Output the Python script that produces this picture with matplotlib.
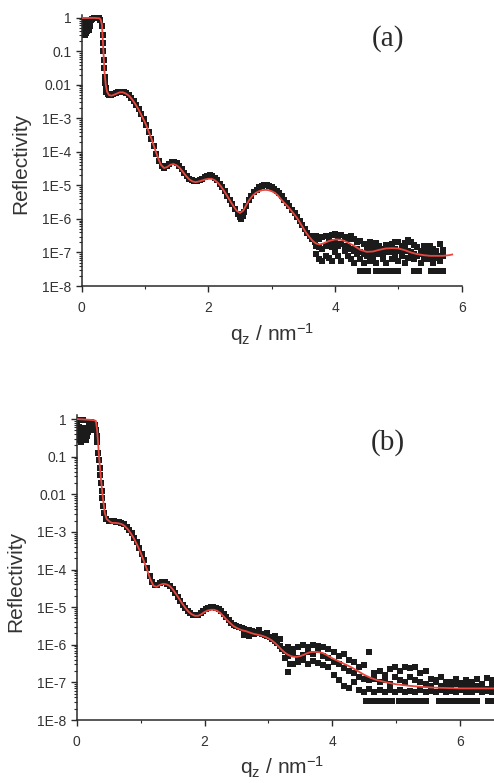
import matplotlib
matplotlib.use("Agg")
import matplotlib.pyplot as plt
import numpy as np
from matplotlib.ticker import FixedLocator, FixedFormatter, LogLocator, MultipleLocator, NullFormatter

plt.rcParams['font.family'] = ['Liberation Sans', 'DejaVu Sans']
plt.rcParams['mathtext.default'] = 'regular'

# ---------------- panel (a) : measured points (log10 R) ----------------
q_a = [0.00, 0.01, 0.02, 0.02, 0.03, 0.04, 0.05, 0.06, 0.06, 0.07,
       0.08, 0.09, 0.10, 0.11, 0.12, 0.13, 0.15, 0.17, 0.19, 0.21,
       0.23, 0.25, 0.27, 0.29,
       0.32, 0.33, 0.335, 0.34, 0.345, 0.35, 0.36, 0.37, 0.38, 0.39, 0.41, 0.43,
       0.46, 0.50, 0.54, 0.58, 0.62, 0.66, 0.70, 0.74, 0.78, 0.82,
       0.86, 0.90, 0.94, 0.98, 1.02, 1.06, 1.10, 1.14, 1.18, 1.22,
       1.26, 1.30,
       1.34, 1.38, 1.42, 1.46, 1.50, 1.54, 1.58, 1.62, 1.66, 1.70,
       1.74, 1.78, 1.82, 1.86, 1.90, 1.94, 1.98, 2.02, 2.06, 2.10,
       2.14, 2.18, 2.22, 2.26, 2.30, 2.34, 2.38, 2.42, 2.46, 2.50,
       2.52, 2.54, 2.56,
       2.60, 2.64, 2.68, 2.72, 2.76, 2.80, 2.84, 2.88, 2.92, 2.96,
       3.00, 3.04, 3.08, 3.12, 3.16, 3.20, 3.24, 3.28, 3.32, 3.36,
       3.40, 3.44, 3.48, 3.52, 3.56, 3.60, 3.64, 3.68]
lg_a = [-0.10, -0.30, -0.45, -0.05, -0.20, -0.40, -0.50, -0.30, -0.08, -0.45,
        -0.25, -0.40, -0.20, -0.35, -0.15, -0.25, -0.05, -0.02, 0.00, 0.01,
        0.01, 0.00, 0.00, -0.05,
        -0.25, -0.50, -0.75, -1.00, -1.25, -1.50, -1.75, -1.95, -2.10, -2.20, -2.28, -2.30,
        -2.30, -2.28, -2.25, -2.22, -2.20, -2.20, -2.24, -2.30, -2.38, -2.48,
        -2.60, -2.72, -2.87, -3.03, -3.20, -3.40, -3.60, -3.82, -4.05, -4.27,
        -4.42, -4.47,
        -4.42, -4.35, -4.30, -4.30, -4.34, -4.42, -4.52, -4.62, -4.72, -4.80,
        -4.85, -4.87, -4.87, -4.84, -4.80, -4.75, -4.72, -4.70, -4.72, -4.77,
        -4.85, -4.95, -5.05, -5.17, -5.30, -5.43, -5.56, -5.70, -5.84, -5.95,
        -6.00, -5.92, -5.80,
        -5.60, -5.42, -5.30, -5.20, -5.12, -5.06, -5.02, -5.00, -5.00, -5.02,
        -5.05, -5.10, -5.16, -5.23, -5.32, -5.42, -5.52, -5.62, -5.72, -5.82,
        -5.93, -6.05, -6.18, -6.30, -6.42, -6.52, -6.60, -6.68]

# noisy high-q part of (a): three rows of points per q
qn_a = [3.70, 3.75, 3.80, 3.85, 3.90, 3.95, 4.00, 4.05, 4.10, 4.15,
        4.20, 4.25, 4.30, 4.35, 4.40, 4.45, 4.50, 4.55, 4.60, 4.65,
        4.70, 4.75, 4.80, 4.85, 4.90, 4.95, 5.00, 5.05, 5.10, 5.15,
        5.20, 5.25, 5.30, 5.35, 5.40, 5.45, 5.50, 5.55, 5.60, 5.65,
        5.70]
hi_a = [-6.50, -6.60, -6.55, -6.50, -6.60, -6.48, -6.45, -6.50, -6.48, -6.55,
        -6.60, -6.52, -6.60, -6.70, -6.65, -6.75, -6.80, -6.70, -6.85, -6.72,
        -6.80, -6.90, -6.78, -6.90, -6.75, -6.68, -6.70, -6.80, -6.72, -6.62,
        -6.70, -6.78, -6.85, -6.95, -6.80, -6.88, -6.82, -6.90, -6.95, -6.75,
        -6.92]
mid_a = [-6.80, -6.85, -6.90, -6.80, -6.75, -6.85, -6.70, -6.80, -6.75, -6.80,
         -6.85, -6.90, -6.95, -6.90, -7.00, -7.05, -6.95, -7.05, -7.00, -6.95,
         -7.00, -7.05, -6.95, -7.00, -6.95, -6.90, -6.95, -7.00, -6.90, -6.95,
         -7.00, -7.05, -7.10, -7.05, -7.10, -7.05, -7.10, -7.15, -7.05, -7.10,
         -7.05]
lo_a = [-7.05, -7.20, -7.25, -7.10, -7.15, -7.25, -7.00, -7.10, -7.25, -6.95,
        -7.10, -7.20, -7.30, -7.05, -7.20, -7.30, -7.10, -7.25, -7.15, -7.30,
        -7.05, -7.20, -7.30, -7.00, -7.20, -7.10, -7.25, -7.10, -7.30, -7.15,
        -7.00, -7.20, -7.10, -7.30, -7.15, -7.20, -7.05, -7.30, -7.15, -7.25,
        -7.10]
q_floor_a = [4.40, 4.46, 4.52, 4.64, 4.70, 4.76, 4.82, 4.88, 4.94, 5.00,
             5.25, 5.32, 5.52, 5.58, 5.64, 5.70]
lg_floor_a = -7.56

# fit (a)
qf_a = [0.00, 0.10, 0.20, 0.28, 0.30, 0.32, 0.34, 0.36, 0.38, 0.40,
        0.43, 0.47, 0.50, 0.55, 0.60, 0.65, 0.70, 0.75, 0.80, 0.85,
        0.90, 0.95, 1.00, 1.05, 1.10, 1.15, 1.20, 1.25, 1.30, 1.35,
        1.40, 1.45, 1.50, 1.55, 1.60, 1.65, 1.70, 1.75, 1.80, 1.85,
        1.90, 1.95, 2.00, 2.05, 2.10, 2.15, 2.20, 2.25, 2.30, 2.35,
        2.40, 2.45, 2.50, 2.55, 2.60, 2.65, 2.70, 2.75, 2.80, 2.85,
        2.90, 2.95, 3.00, 3.05, 3.10, 3.15, 3.20, 3.25, 3.30, 3.35,
        3.40, 3.45, 3.50, 3.55, 3.60, 3.65, 3.70, 3.75, 3.80, 3.90,
        4.00, 4.10, 4.20, 4.30, 4.40, 4.50, 4.60, 4.70, 4.80, 4.90,
        5.00, 5.10, 5.20, 5.30, 5.40, 5.50, 5.60, 5.70, 5.80, 5.85]
lgf_a = [0.00, 0.00, 0.00, -0.01, -0.05, -0.20, -0.90, -1.60, -2.00, -2.20,
         -2.30, -2.32, -2.30, -2.26, -2.22, -2.22, -2.26, -2.33, -2.44, -2.58,
         -2.74, -2.93, -3.12, -3.35, -3.60, -3.88, -4.15, -4.38, -4.48, -4.45,
         -4.38, -4.36, -4.40, -4.48, -4.60, -4.72, -4.82, -4.88, -4.90, -4.88,
         -4.85, -4.82, -4.80, -4.80, -4.84, -4.92, -5.03, -5.17, -5.32, -5.48,
         -5.63, -5.76, -5.82, -5.75, -5.58, -5.42, -5.30, -5.22, -5.17, -5.14,
         -5.13, -5.14, -5.17, -5.22, -5.30, -5.42, -5.52, -5.62, -5.73, -5.85,
         -5.97, -6.12, -6.28, -6.43, -6.55, -6.66, -6.73, -6.76, -6.74, -6.66,
         -6.61, -6.62, -6.70, -6.80, -6.92, -6.98, -6.97, -6.92, -6.88, -6.87,
         -6.88, -6.93, -7.00, -7.05, -7.08, -7.10, -7.10, -7.10, -7.08, -7.06]

# ---------------- panel (b) : measured points (log10 R) ----------------
q_b = [0.00, 0.01, 0.02, 0.02, 0.03, 0.04, 0.05, 0.06, 0.06, 0.07,
       0.08, 0.09, 0.10, 0.10, 0.11, 0.12, 0.13, 0.14, 0.15, 0.16,
       0.17, 0.18, 0.19, 0.20, 0.22, 0.24, 0.26, 0.27,
       0.29, 0.30, 0.31, 0.32, 0.34, 0.35, 0.36, 0.37, 0.38, 0.39,
       0.40, 0.41, 0.43, 0.46,
       0.50, 0.54, 0.58, 0.62, 0.66, 0.70, 0.74, 0.78, 0.82, 0.86,
       0.90, 0.94, 0.98, 1.02, 1.06, 1.10, 1.14, 1.18, 1.22, 1.26,
       1.30, 1.34, 1.38, 1.42, 1.46, 1.50, 1.54, 1.58, 1.62, 1.66,
       1.70, 1.74, 1.78, 1.82, 1.86, 1.90, 1.94, 1.98, 2.02, 2.06,
       2.10, 2.14, 2.18, 2.22, 2.26, 2.30, 2.34, 2.38, 2.42, 2.46,
       2.50, 2.54, 2.58, 2.62, 2.66, 2.70, 2.74, 2.78, 2.82, 2.86,
       2.90, 2.94, 2.98, 3.02, 3.06, 3.10, 3.14, 3.18, 3.22, 3.26,
       3.30,
       2.62, 2.70, 2.78, 2.86, 2.98, 3.10, 3.18, 3.26, 3.34]
lg_b = [-0.05, -0.30, -0.50, -0.02, -0.20, -0.55, -0.40, -0.60, -0.03, -0.30,
        -0.50, -0.35, -0.45, -0.03, -0.25, -0.50, -0.40, -0.30, -0.55, -0.45,
        -0.35, -0.25, -0.20, -0.10, -0.08, -0.12, -0.20, -0.30,
        -0.15, -0.30, -0.45, -0.60, -0.90, -1.10, -1.30, -1.50, -1.70, -1.90,
        -2.10, -2.30, -2.50, -2.65,
        -2.70, -2.72, -2.72, -2.73, -2.74, -2.76, -2.80, -2.86, -2.94, -3.04,
        -3.16, -3.28, -3.42, -3.58, -3.76, -3.96, -4.16, -4.34, -4.42, -4.40,
        -4.36, -4.33, -4.34, -4.38, -4.43, -4.52, -4.62, -4.74, -4.84, -4.94,
        -5.03, -5.10, -5.16, -5.20, -5.22, -5.20, -5.15, -5.10, -5.05, -5.02,
        -5.00, -5.00, -5.01, -5.04, -5.10, -5.18, -5.27, -5.35, -5.42, -5.47,
        -5.51, -5.54, -5.56, -5.58, -5.60, -5.62, -5.64, -5.66, -5.68, -5.70,
        -5.72, -5.74, -5.77, -5.80, -5.84, -5.90, -5.96, -6.03, -6.10, -6.16,
        -6.20,
        -5.75, -5.78, -5.72, -5.62, -5.68, -5.78, -5.85, -6.35, -6.50]

qn_b = [3.30, 3.38, 3.46, 3.54, 3.62, 3.70, 3.78, 3.86, 3.94, 4.02,
        4.10, 4.18, 4.26, 4.34, 4.42, 4.50, 4.58, 4.66, 4.74, 4.82,
        4.90, 4.98, 5.06, 5.14, 5.22, 5.30, 5.38, 5.46, 5.54, 5.62,
        5.70, 5.78, 5.86, 5.94, 6.02, 6.10, 6.18, 6.26, 6.34, 6.42,
        6.50]
hi_b = [-6.05, -6.10, -6.05, -6.00, -6.05, -6.00, -6.02, -6.05, -6.10, -6.20,
        -6.30, -6.25, -6.40, -6.45, -6.60, -6.55, -6.19, -6.75, -6.70, -6.80,
        -6.65, -6.60, -6.70, -6.58, -6.62, -6.60, -6.75, -6.70, -6.90, -6.95,
        -6.85, -7.00, -6.98, -6.90, -7.02, -6.95, -7.00, -6.92, -7.05, -6.88,
        -6.95]
mid_b = [-6.30, -6.25, -6.35, -6.28, -6.20, -6.25, -6.15, -6.30, -6.35, -6.45,
         -6.50, -6.62, -6.70, -6.75, -6.85, -6.90, -6.95, -6.90, -7.00, -6.95,
         -7.05, -6.85, -6.95, -7.00, -6.85, -6.95, -7.00, -7.05, -7.10, -7.00,
         -7.10, -7.15, -7.10, -7.05, -7.15, -7.10, -7.15, -7.10, -7.12, -7.18,
         -7.10]
lo_b = [-6.72, -6.50, -6.45, -6.40, -6.50, -6.42, -6.48, -6.55, -6.60, -6.80,
        -6.95, -7.10, -7.15, -7.00, -7.20, -7.25, -7.18, -7.25, -7.20, -7.25,
        -7.20, -7.25, -7.20, -7.25, -7.22, -7.25, -7.20, -7.25, -7.22, -7.25,
        -7.20, -7.25, -7.22, -7.25, -7.20, -7.25, -7.25, -7.20, -7.25, -7.22,
        -7.25]
q_floor_b = [4.52, 4.58, 4.64, 4.70, 4.76, 4.82, 4.88, 4.94, 5.05, 5.11,
             5.17, 5.23, 5.29, 5.35, 5.41, 5.47, 5.67, 5.73, 5.79, 5.85,
             5.91, 5.97, 6.03, 6.09, 6.15, 6.21, 6.27, 6.44, 6.50]
lg_floor_b = -7.50

# fit (b)
qf_b = [0.00, 0.10, 0.20, 0.27, 0.30, 0.32, 0.35, 0.38, 0.41, 0.44,
        0.47, 0.52, 0.55, 0.60, 0.65, 0.70, 0.75, 0.80, 0.85, 0.90,
        0.95, 1.00, 1.05, 1.10, 1.15, 1.20, 1.25, 1.30, 1.35, 1.40,
        1.45, 1.50, 1.55, 1.60, 1.65, 1.70, 1.75, 1.80, 1.85, 1.90,
        1.95, 2.00, 2.05, 2.10, 2.15, 2.20, 2.25, 2.30, 2.35, 2.40,
        2.45, 2.50, 2.55, 2.60, 2.65, 2.70, 2.75, 2.80, 2.85, 2.90,
        2.95, 3.00, 3.05, 3.10, 3.15, 3.20, 3.25, 3.30, 3.35, 3.40,
        3.45, 3.50, 3.55, 3.60, 3.65, 3.70, 3.75, 3.80, 3.85, 3.90,
        3.95, 4.00, 4.10, 4.20, 4.30, 4.40, 4.50, 4.60, 4.70, 4.80,
        4.90, 5.00, 5.20, 5.40, 5.60, 5.80, 6.00, 6.20, 6.40, 6.55]
lgf_b = [0.00, -0.01, -0.02, -0.03, -0.05, -0.30, -1.00, -1.60, -2.10, -2.50,
         -2.66, -2.73, -2.76, -2.76, -2.77, -2.79, -2.84, -2.93, -3.05, -3.19,
         -3.36, -3.55, -3.77, -4.00, -4.25, -4.43, -4.46, -4.41, -4.38, -4.39,
         -4.43, -4.52, -4.64, -4.77, -4.90, -5.02, -5.12, -5.19, -5.23, -5.23,
         -5.19, -5.13, -5.09, -5.07, -5.07, -5.10, -5.16, -5.25, -5.34, -5.42,
         -5.50, -5.55, -5.59, -5.62, -5.64, -5.67, -5.70, -5.72, -5.74, -5.76,
         -5.79, -5.83, -5.88, -5.95, -6.03, -6.12, -6.20, -6.26, -6.30, -6.32,
         -6.32, -6.30, -6.27, -6.23, -6.20, -6.19, -6.19, -6.20, -6.22, -6.26,
         -6.31, -6.36, -6.44, -6.52, -6.60, -6.70, -6.80, -6.88, -6.94, -6.98,
         -7.02, -7.05, -7.09, -7.12, -7.14, -7.15, -7.16, -7.16, -7.16, -7.16]

ytick_vals = [1, 0.1, 0.01, 1e-3, 1e-4, 1e-5, 1e-6, 1e-7, 1e-8]
ytick_labels = ['1', '0.1', '0.01', '1E-3', '1E-4', '1E-5', '1E-6', '1E-7', '1E-8']

W, H = 494, 783
ink = '#2a2a2a'
dot = '#1b1b1b'
red = '#e8473e'


def draw_panel(ax, q, lg, qn, rows, qfl, lgfl, qf, lgf, xmax):
    pts = dict(ls='none', marker='s', ms=4.2, mew=0, color=dot, zorder=2)
    ax.plot(q, 10 ** np.array(lg), **pts)
    for row in rows:
        assert len(row) == len(qn)
        ax.plot(qn, 10 ** np.array(row), **pts)
    ax.plot(qfl, [10 ** lgfl] * len(qfl), **pts)
    ax.plot(qf, 10 ** np.array(lgf), color=red, lw=1.3, zorder=3)

    ax.set_yscale('log')
    ax.set_ylim(1e-8, 1.25)
    ax.set_xlim(0, xmax)
    ax.yaxis.set_major_locator(FixedLocator(ytick_vals))
    ax.yaxis.set_major_formatter(FixedFormatter(ytick_labels))
    ax.yaxis.set_minor_locator(LogLocator(base=10, subs=np.arange(2, 10), numticks=20))
    ax.yaxis.set_minor_formatter(NullFormatter())
    ax.xaxis.set_major_locator(FixedLocator([0, 2, 4, 6]))
    ax.xaxis.set_minor_locator(MultipleLocator(1))

    for s in ['top', 'right']:
        ax.spines[s].set_visible(False)
    for s in ['left', 'bottom']:
        ax.spines[s].set_color(ink)
        ax.spines[s].set_linewidth(1.1)
    ax.tick_params(which='major', direction='out', length=4.5, width=1.0,
                   color=ink, labelsize=10, labelcolor='#333333')
    ax.tick_params(which='minor', direction='out', length=2.5, width=0.8, color=ink)
    ax.tick_params(axis='y', which='major', pad=3)
    ax.tick_params(axis='x', which='major', pad=6)
    ax.set_facecolor('none')


fig = plt.figure(figsize=(W / 100, H / 100), dpi=100)

ax_a = fig.add_axes([81.7 / W, 497 / H, 380 / W, 271.3 / H])
draw_panel(ax_a, q_a, lg_a, qn_a, [hi_a, mid_a, lo_a], q_floor_a, lg_floor_a,
           qf_a, lgf_a, 6.0)

ax_b = fig.add_axes([76.7 / W, 63 / H, 6.55 * 63.9 / W, 304.6 / H])
draw_panel(ax_b, q_b, lg_b, qn_b, [hi_b, mid_b, lo_b], q_floor_b, lg_floor_b,
           qf_b, lgf_b, 6.55)

lab = dict(fontsize=15, color='#333333')
fig.text(20.5 / W, 1 - 163.5 / H, 'Reflectivity', rotation=90, ha='center', va='center', **lab)
fig.text(16 / W, 1 - 581 / H, 'Reflectivity', rotation=90, ha='center', va='center', **lab)
fig.text(272 / W, 1 - 340.7 / H, r'q$_z$ / nm$^{-1}$', ha='center', va='baseline', **lab)
fig.text(282 / W, 1 - 774 / H, r'q$_z$ / nm$^{-1}$', ha='center', va='baseline', **lab)

panel = dict(fontsize=21, family='Liberation Serif', color='#2a2a2a', ha='center', va='center')
fig.text(388 / W, 1 - 39 / H, '(a)', **panel)
fig.text(388 / W, 1 - 443 / H, '(b)', **panel)

fig.savefig('out.png', dpi=100)
